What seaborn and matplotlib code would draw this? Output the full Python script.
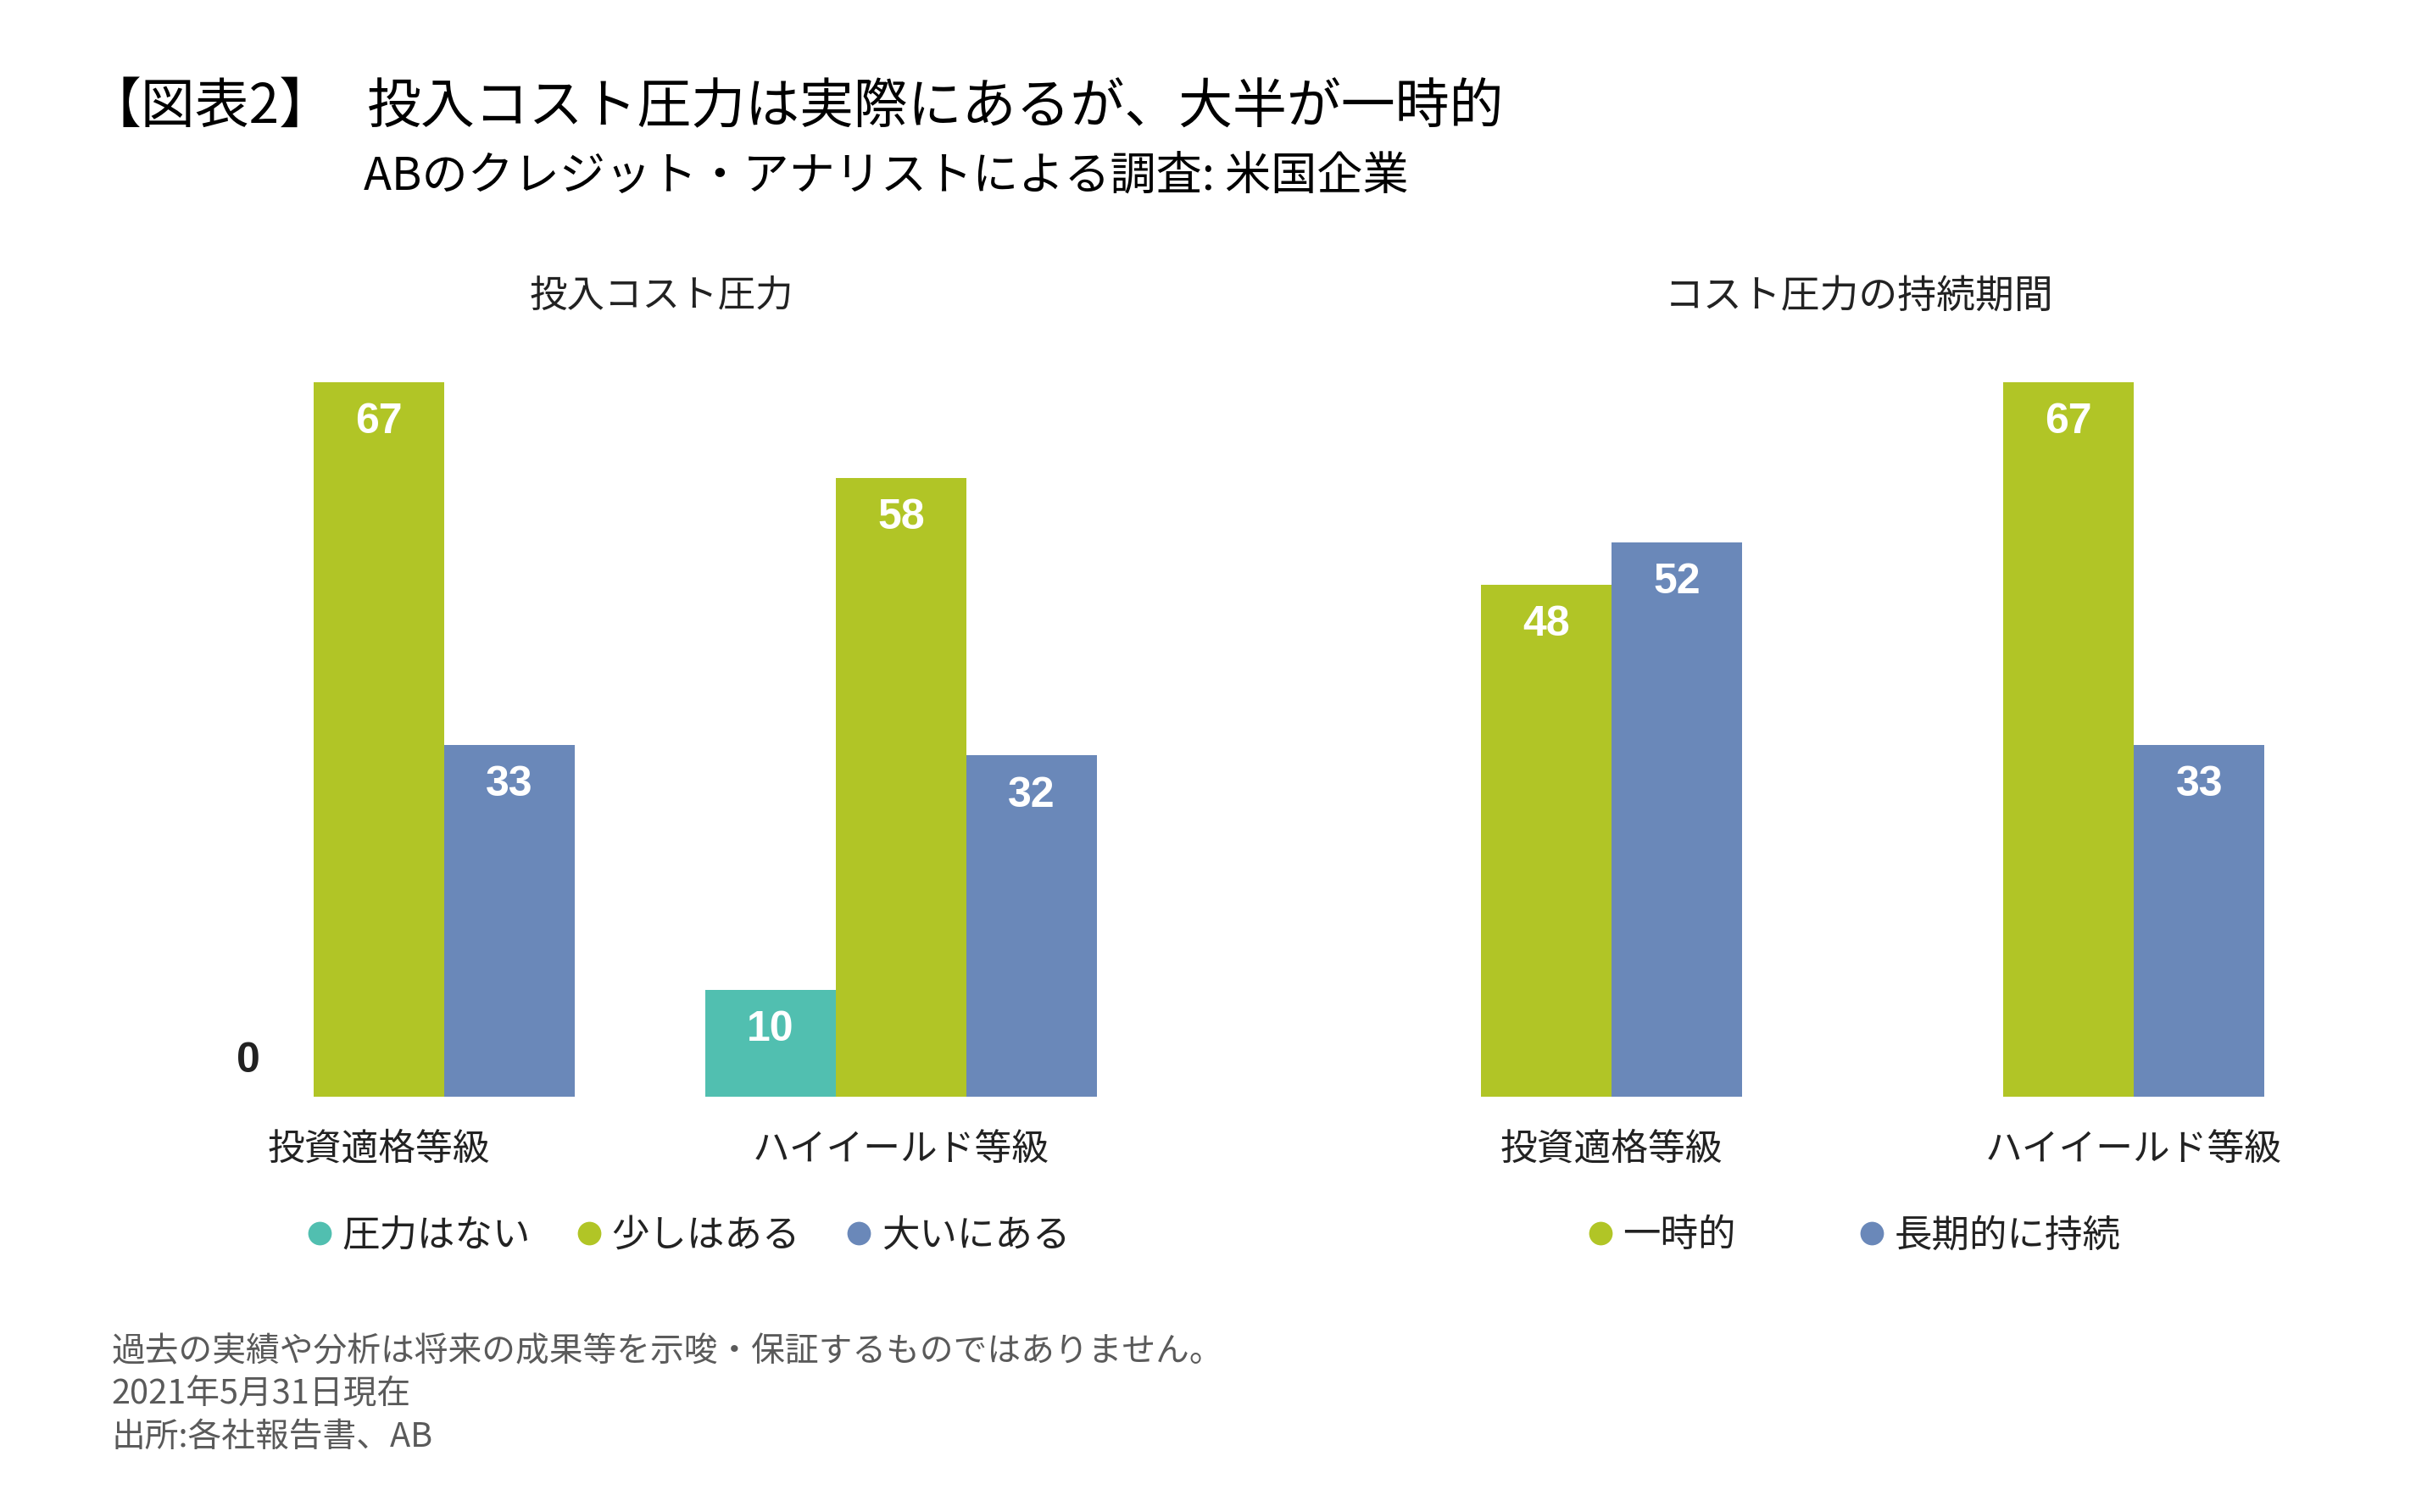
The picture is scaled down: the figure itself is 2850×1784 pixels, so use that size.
import matplotlib
matplotlib.use("Agg")
import matplotlib.pyplot as plt
from matplotlib.lines import Line2D
import seaborn as sns
import pandas as pd

# ---- data ----
left_categories = ["投資適格等級", "ハイイールド等級"]
left_series = ["圧力はない", "少しはある", "大いにある"]
no_pressure = [0, 10]
some_pressure = [67, 58]
great_pressure = [33, 32]

right_categories = ["投資適格等級", "ハイイールド等級"]
right_series = ["一時的", "長期的に持続"]
temporary = [48, 67]
persistent = [52, 33]

left_title = "投入コスト圧力"
right_title = "コスト圧力の持続期間"
title_tag = "【図表2】"
title_main = "投入コスト圧力は実際にあるが、大半が一時的"
subtitle = "ABのクレジット・アナリストによる調査: 米国企業"
footnotes = ["過去の実績や分析は将来の成果等を示唆・保証するものではありません。",
             "2021年5月31日現在",
             "出所:各社報告書、AB"]

TEAL = "#51BFB0"
GREEN = "#B1C526"
BLUE = "#6A88B9"
DARK = "#222222"

sns.set_theme(style="white")
plt.rcParams['font.family'] = ['Noto Sans CJK JP', 'DejaVu Sans']

left_df = pd.DataFrame({
    "cat": left_categories * 3,
    "series": [s for s in left_series for _ in left_categories],
    "val": no_pressure + some_pressure + great_pressure,
})
right_df = pd.DataFrame({
    "cat": right_categories * 2,
    "series": [s for s in right_series for _ in right_categories],
    "val": temporary + persistent,
})

fig = plt.figure(figsize=(28.5, 17.84), dpi=100)
axL = fig.add_axes([0.0488, 0.2746, 0.4323, 0.5292])
axR = fig.add_axes([0.559, 0.2746, 0.4323, 0.5292])

sns.barplot(data=left_df, x="cat", y="val", hue="series", hue_order=left_series,
            order=left_categories, palette=[TEAL, GREEN, BLUE], width=0.75,
            saturation=1, ax=axL, legend=False, linewidth=0, errorbar=None)
sns.barplot(data=right_df, x="cat", y="val", hue="series", hue_order=right_series,
            order=right_categories, palette=[GREEN, BLUE], width=0.5,
            saturation=1, ax=axR, legend=False, linewidth=0, errorbar=None)

for ax in (axL, axR):
    ax.set_xlim(-0.5, 1.5)
    ax.set_ylim(0, 75)
    ax.set_xlabel("")
    ax.set_ylabel("")
    ax.set_yticks([])
    for s in ax.spines.values():
        s.set_visible(False)
    ax.tick_params(axis="x", length=0, pad=28, labelsize=31.5, colors=DARK)
    for c in ax.containers:
        for bar in c:
            h = bar.get_height()
            x = bar.get_x() + bar.get_width() / 2
            if h > 0:
                ax.annotate(f"{h:.0f}", (x, h), xytext=(0, -34), textcoords="offset points",
                            ha="center", va="center", fontsize=36, fontweight="bold",
                            color="white", family="Liberation Sans")
            else:
                ax.annotate(f"{h:.0f}", (x, h), xytext=(0, 30), textcoords="offset points",
                            ha="center", va="center", fontsize=36, fontweight="bold",
                            color=DARK, family="Liberation Sans")

# titles
fig.text(0.2739, 0.8044, left_title, ha="center", va="center", fontsize=32, color=DARK)
fig.text(0.7695, 0.8044, right_title, ha="center", va="center", fontsize=33, color=DARK)
fig.text(0.036, 0.9290, title_tag, ha="left", va="center", fontsize=46, color="black")
fig.text(0.1518, 0.9290, title_main, ha="left", va="center", fontsize=46, color="black")
fig.text(0.1505, 0.8825, subtitle, ha="left", va="center", fontsize=39, color="black")

for i, line in enumerate(footnotes):
    fig.text(0.046, 0.1060 - i * 0.0282, line, ha="left", va="center", fontsize=28.6, color="#5a5a5a")

# legends
def handles(colors, labels):
    return [Line2D([0], [0], marker="o", linestyle="", markersize=20,
                   markerfacecolor=c, markeredgewidth=0, label=l) for c, l in zip(colors, labels)]

legL = fig.legend(handles=handles([TEAL, GREEN, BLUE], left_series), loc="center",
                  bbox_to_anchor=(0.2845, 0.1832), ncol=3, frameon=False, fontsize=32,
                  handlelength=0.8, handletextpad=0.2, columnspacing=1.15, labelcolor=DARK)
legR = fig.legend(handles=handles([GREEN, BLUE], right_series), loc="center",
                  bbox_to_anchor=(0.767, 0.1832), ncol=2, frameon=False, fontsize=32,
                  handlelength=0.8, handletextpad=0.2, columnspacing=3.2, labelcolor=DARK)

fig.savefig("out.png", dpi=100, facecolor="white")
